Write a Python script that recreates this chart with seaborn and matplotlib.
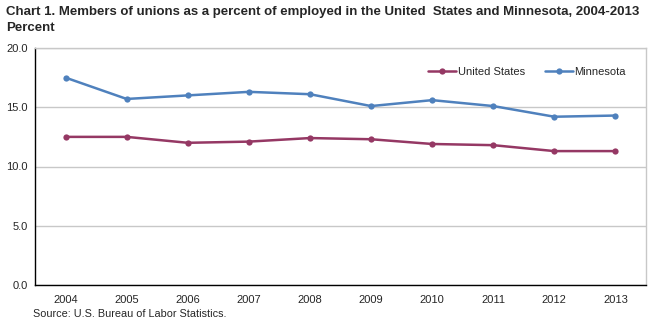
import matplotlib
matplotlib.use("Agg")
import matplotlib.pyplot as plt
import seaborn as sns
import pandas as pd
from matplotlib.ticker import FixedLocator, NullFormatter

years = ["2004", "2005", "2006", "2007", "2008", "2009", "2010", "2011", "2012", "2013"]
us_values = [12.5, 12.5, 12.0, 12.1, 12.4, 12.3, 11.9, 11.8, 11.3, 11.3]
mn_values = [17.5, 15.7, 16.0, 16.3, 16.1, 15.1, 15.6, 15.1, 14.2, 14.3]
y_ticks = [0.0, 5.0, 10.0, 15.0, 20.0]

df = pd.DataFrame({
    "Year": years * 2,
    "Percent": us_values + mn_values,
    "Series": ["United States"] * len(years) + ["Minnesota"] * len(years),
})

sns.set_style("white")
plt.rcParams["font.family"] = ["Liberation Sans", "DejaVu Sans"]

fig = plt.figure(figsize=(6.64, 3.32), dpi=100)
ax = fig.add_axes([35 / 664, 1 - 285 / 332, (646 - 35) / 664, (285 - 48) / 332])

palette = {"United States": "#953864", "Minnesota": "#4F81BD"}
sns.lineplot(data=df, x="Year", y="Percent", hue="Series", palette=palette,
             marker="o", markersize=4.5, markeredgewidth=0, linewidth=1.8,
             ax=ax, sort=False)

ax.set_xlim(-0.5, len(years) - 0.5)
ax.set_ylim(0, 20)
ax.set_yticks(y_ticks)
ax.set_yticklabels([f"{v:.1f}" for v in y_ticks], fontsize=8)
ax.set_xticks(range(len(years)))
ax.set_xticklabels(years, fontsize=8)
ax.tick_params(axis="x", which="major", length=0, pad=7)
ax.xaxis.set_minor_locator(FixedLocator([i - 0.5 for i in range(len(years) + 1)]))
ax.xaxis.set_minor_formatter(NullFormatter())
ax.tick_params(axis="x", which="minor", length=7, width=1, color="black", direction="inout")
ax.tick_params(axis="y", length=2, width=1, color="black", direction="out", pad=3)
ax.set_xlabel("")
ax.set_ylabel("")

ax.grid(axis="y", color="#C8C8C8", linewidth=1)
ax.set_axisbelow(True)
for side in ["top", "right"]:
    ax.spines[side].set_visible(True)
    ax.spines[side].set_color("#C8C8C8")
    ax.spines[side].set_linewidth(1)
for side in ["left", "bottom"]:
    ax.spines[side].set_visible(True)
    ax.spines[side].set_color("black")
    ax.spines[side].set_linewidth(1)

leg = ax.legend(loc="center right", bbox_to_anchor=(626 / 664, 1 - 72 / 332),
                bbox_transform=fig.transFigure, ncol=2, frameon=False,
                fontsize=8, handlelength=2.5, columnspacing=1.8, handletextpad=0.15,
                borderaxespad=0, borderpad=0)

fig.text(6 / 664, 1 - 12 / 332, "Chart 1. Members of unions as a percent of employed in the United  States and Minnesota, 2004-2013",
         fontsize=9.5, fontweight="bold", va="center", ha="left")
fig.text(6 / 664, 1 - 28 / 332, "Percent", fontsize=9.5, fontweight="bold", va="center", ha="left")
fig.text(33 / 664, 1 - 314 / 332, "Source: U.S. Bureau of Labor Statistics.", fontsize=7.8, va="center", ha="left")

fig.savefig("out.png", dpi=100)
